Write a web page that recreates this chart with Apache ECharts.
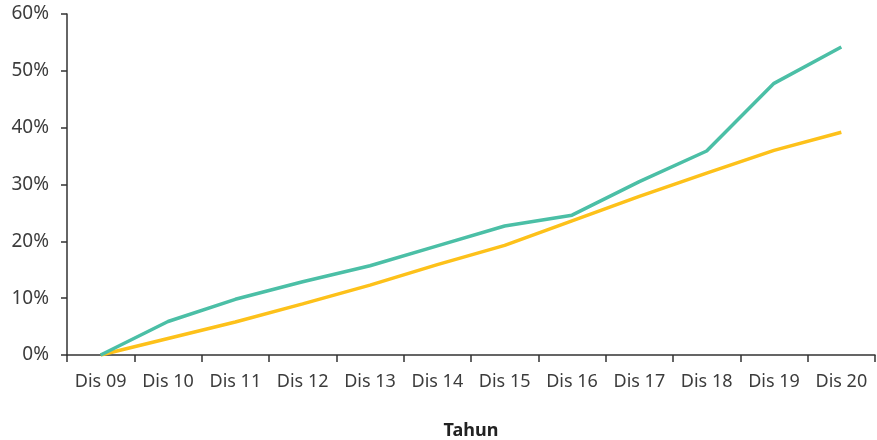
<!DOCTYPE html>
<html>
<head>
<meta charset="utf-8">
<script src="https://cdn.jsdelivr.net/npm/echarts@6/dist/echarts.min.js"></script>
<style>html,body{margin:0;padding:0;background:#fff;}#c{width:877px;height:440px;}</style>
</head>
<body>
<div id="c"></div>
<script>
const categories = ["Dis 09","Dis 10","Dis 11","Dis 12","Dis 13","Dis 14","Dis 15","Dis 16","Dis 17","Dis 18","Dis 19","Dis 20"];
const greenSeries = [0, 5.9, 9.8, 12.9, 15.7, 19.2, 22.7, 24.6, 30.5, 35.9, 47.8, 54.2];
const yellowSeries = [0, 2.9, 5.8, 9.0, 12.3, 15.9, 19.3, 23.6, 27.9, 32.0, 36.0, 39.2];
const yTicks = [0, 10, 20, 30, 40, 50, 60];

const chart = echarts.init(document.getElementById('c'));
const font = '"Noto Sans", sans-serif';
chart.setOption({
  animation: false,
  grid: {left: 67, right: 2, top: 14, bottom: 85, outerBoundsMode: 'none', containLabel: false},
  xAxis: {
    type: 'category',
    data: categories,
    boundaryGap: true,
    name: 'Tahun',
    nameLocation: 'middle',
    nameGap: 67,
    nameTextStyle: {fontFamily: font, fontSize: 18, fontWeight: 'bold', color: '#222'},
    axisLine: {lineStyle: {color: '#333', width: 1.5}},
    axisTick: {show: true, length: 7, lineStyle: {color: '#333', width: 1.5}},
    axisLabel: {fontFamily: font, fontSize: 18, color: '#3c3c3c', margin: 18, interval: 0}
  },
  yAxis: {
    type: 'value',
    min: yTicks[0],
    max: yTicks[yTicks.length - 1],
    interval: 10,
    splitLine: {show: false},
    axisLine: {show: true, lineStyle: {color: '#333', width: 1.5}},
    axisTick: {show: true, length: 6, lineStyle: {color: '#333', width: 1.5}},
    axisLabel: {fontFamily: font, fontSize: 19, color: '#3c3c3c', margin: 18, formatter: v => v + '%'}
  },
  series: [
    {type: 'line', data: greenSeries, showSymbol: false, symbol: 'none', lineStyle: {color: '#4bbfa6', width: 3.5}, z: 3},
    {type: 'line', data: yellowSeries, showSymbol: false, symbol: 'none', lineStyle: {color: '#fdc11a', width: 3.5}, z: 2}
  ]
});
</script>
</body>
</html>
